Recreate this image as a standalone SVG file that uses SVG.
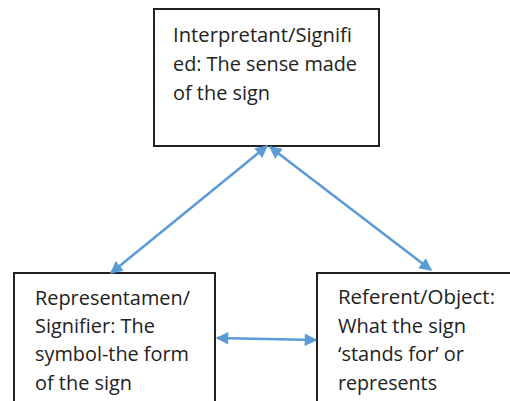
<svg xmlns="http://www.w3.org/2000/svg" width="510" height="401" viewBox="0 0 510 401">
<defs>
<marker id="ah" viewBox="0 0 10 10" refX="9" refY="5" markerWidth="5.5" markerHeight="5" orient="auto-start-reverse" markerUnits="strokeWidth">
<path d="M0,0 L10,5 L0,10 z" fill="#5B9BD5"/>
</marker>
<style>
.box{fill:#fff;stroke:#222;stroke-width:2}
.t{font-family:"Open Sans","Liberation Sans",sans-serif;font-size:19.5px;fill:#222}
.c{stroke:#5B9BD5;stroke-width:2.5;fill:none;marker-start:url(#ah);marker-end:url(#ah)}
</style>
</defs>
<rect width="510" height="401" fill="#fff"/>
<g id="interpretant">
<rect class="box" x="154" y="9" width="225" height="137"/>
<text class="t" x="173" y="42" textLength="179" lengthAdjust="spacingAndGlyphs">Interpretant/Signifi</text>
<text class="t" x="173" y="71" textLength="184" lengthAdjust="spacingAndGlyphs">ed: The sense made</text>
<text class="t" x="173" y="100" textLength="97" lengthAdjust="spacingAndGlyphs">of the sign</text>
</g>
<g id="representamen">
<rect class="box" x="14" y="273" width="201" height="140"/>
<text class="t" x="35" y="305" textLength="155" lengthAdjust="spacingAndGlyphs">Representamen/</text>
<text class="t" x="35" y="333" textLength="120" lengthAdjust="spacingAndGlyphs">Signifier: The</text>
<text class="t" x="35" y="361" textLength="154" lengthAdjust="spacingAndGlyphs">symbol-the form</text>
<text class="t" x="35" y="390" textLength="97" lengthAdjust="spacingAndGlyphs">of the sign</text>
</g>
<g id="referent">
<rect class="box" x="317" y="273" width="210" height="140"/>
<text class="t" x="338" y="304" textLength="157" lengthAdjust="spacingAndGlyphs">Referent/Object:</text>
<text class="t" x="338" y="333" textLength="128" lengthAdjust="spacingAndGlyphs">What the sign</text>
<text class="t" x="338" y="361" textLength="126" lengthAdjust="spacingAndGlyphs">‘stands for’ or</text>
<text class="t" x="338" y="390" textLength="99" lengthAdjust="spacingAndGlyphs">represents</text>
</g>
<g id="connectors">
<line class="c" x1="111" y1="273" x2="267" y2="146"/>
<line class="c" x1="270" y1="147" x2="431" y2="270"/>
<line class="c" x1="217" y1="338" x2="316" y2="340"/>
</g>
</svg>
